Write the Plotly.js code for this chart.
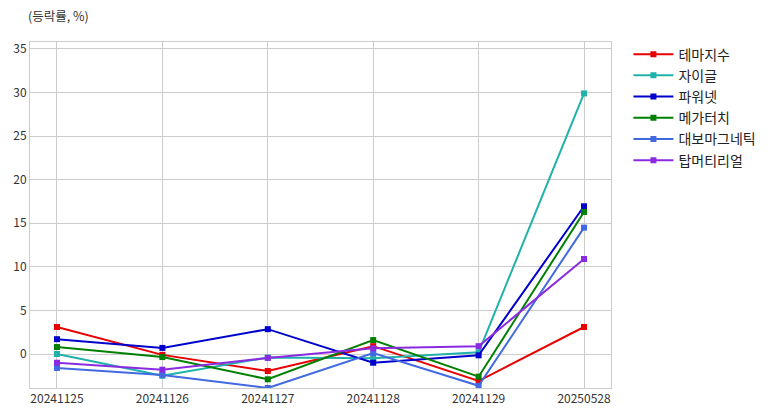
<!DOCTYPE html>
<html><head><meta charset="utf-8">
<script src="https://cdn.plot.ly/plotly-3.0.1.min.js"></script>
<style>body{margin:0;background:#fff}#c{width:775px;height:416px}</style>
</head><body><div id="c"></div>
<script>
const dates = ["20241125","20241126","20241127","20241128","20241129","20250528"];
const names = ["테마지수","자이글","파워넷","메가터치","대보마그네틱","탑머티리얼"];
const colors = ["#e80000","#20b2aa","#0000cd","#008000","#4169e1","#8a2be2"];
const s_theme = [3.1,-0.1,-1.95,0.9,-3.1,3.1];
const s_zaigle = [0.0,-2.5,-0.4,-0.5,0.2,29.9];
const s_power = [1.7,0.7,2.85,-1.0,-0.15,16.95];
const s_mega = [0.8,-0.35,-2.9,1.6,-2.6,16.3];
const s_daebo = [-1.6,-2.4,-3.9,0.1,-3.65,14.5];
const s_top = [-1.0,-1.8,-0.45,0.65,0.9,10.9];
const series = [s_theme,s_zaigle,s_power,s_mega,s_daebo,s_top];
const font = "'Noto Sans CJK KR','Noto Sans',sans-serif";
const traces = series.map((v,i)=>({
  x: dates, y: v, name: names[i], type:'scatter', mode:'lines+markers',
  line:{color:colors[i], width:2}, marker:{symbol:'square', size:6, color:colors[i]}
}));
const layout = {
  width:775, height:416,
  margin:{l:30,r:164,t:42,b:28},
  paper_bgcolor:'#fff', plot_bgcolor:'#fff',
  font:{family:font, size:12, color:'#333'},
  xaxis:{type:'category', range:[-0.256,5.256], showgrid:true, gridcolor:'#cccccc', gridwidth:1,
    showline:true, linecolor:'#cccccc', mirror:true, zeroline:false, ticks:'', tickfont:{size:12,color:'#333'}},
  yaxis:{range:[-3.9,35.8], dtick:5, showgrid:true, gridcolor:'#cccccc', gridwidth:1,
    showline:true, linecolor:'#cccccc', mirror:true, zeroline:false, ticks:'', tickfont:{size:12,color:'#333'}},
  legend:{x:1.03, y:1.01, xanchor:'left', yanchor:'top', font:{size:14,color:'#222'}, tracegroupgap:0, itemwidth:40},
  annotations:[{text:'(등락률, %)', xref:'paper', yref:'paper', x:-0.007, y:1.0, yshift:27, xanchor:'left', yanchor:'middle',
    showarrow:false, font:{size:12.5,color:'#333'}}]
};
Plotly.newPlot('c', traces, layout, {displayModeBar:false});
</script></body></html>
